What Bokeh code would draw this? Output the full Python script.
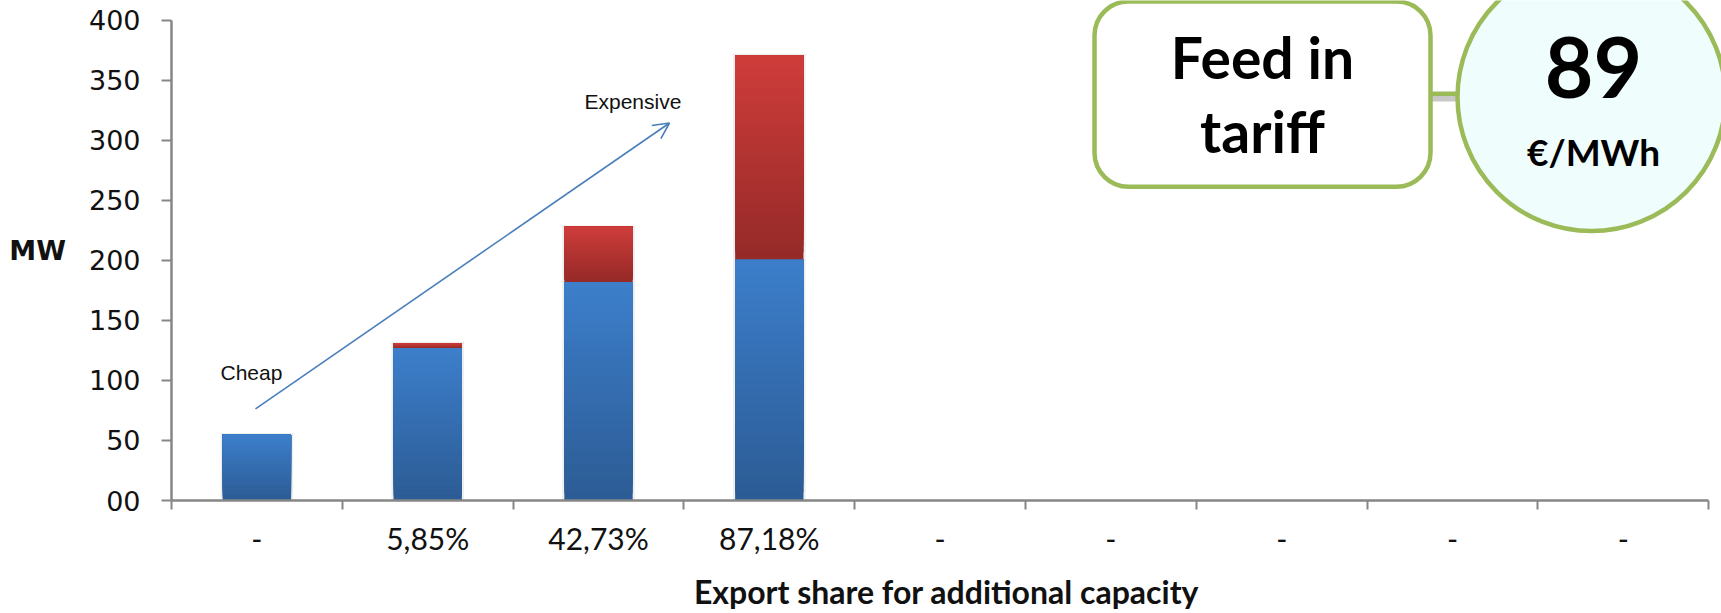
import numpy as np
from bokeh.plotting import figure
from bokeh.models import FixedTicker, Range1d, Arrow, OpenHead, ColumnDataSource
from bokeh.core.properties import value
from bokeh.embed import file_html
from bokeh.resources import INLINE

# ---- data ----
categories = ["-", "5,85%", "42,73%", "87,18%", "-", "-", "-", "-", "-"]
cheap_mw = [55, 127, 182, 201, 0, 0, 0, 0, 0]
expensive_mw = [0, 4, 46, 170, 0, 0, 0, 0, 0]
y_ticks = [0, 50, 100, 150, 200, 250, 300, 350, 400]
y_tick_labels = ["00", "50", "100", "150", "200", "250", "300", "350", "400"]
tariff_label = ["Feed in", "tariff"]
tariff_value = "89"
tariff_unit = "€/MWh"

# ---- geometry helpers (pixel -> data) ----
W, H = 1721, 613
LEFT, BOTTOM_BORDER = 171, 111
FRAME_H = H - BOTTOM_BORDER
CAT_PX = 170.8
PX_PER_MW = (FRAME_H - 20) / 400.0
x_end = (W - LEFT) / CAT_PX
y_end = FRAME_H / PX_PER_MW

def fx(px):
    return (px - LEFT) / CAT_PX

def fy(py):
    return (FRAME_H - py) / PX_PER_MW

p = figure(width=W, height=H, output_backend="svg", toolbar_location=None,
           x_range=Range1d(0, x_end), y_range=Range1d(0, y_end),
           min_border_left=LEFT, min_border_right=0, min_border_top=0,
           min_border_bottom=BOTTOM_BORDER)
p.outline_line_color = None
p.xgrid.visible = False
p.ygrid.visible = False
p.background_fill_color = "white"
p.border_fill_color = "white"

n = len(categories)
xc = [i + 0.5 for i in range(n)]

# ---- gradient bars (sliced) ----
def hex2rgb(h):
    h = h.lstrip("#")
    return np.array([int(h[i:i + 2], 16) for i in (0, 2, 4)], dtype=float)

def rgb2hex(c):
    return "#%02x%02x%02x" % tuple(int(round(v)) for v in c)

def gradient_source(bottoms, tops, top_col, bot_col, nslices=30):
    xs, bs, ts, cs = [], [], [], []
    c_top, c_bot = hex2rgb(top_col), hex2rgb(bot_col)
    for x, b, t in zip(xc, bottoms, tops):
        if t - b <= 0:
            continue
        for k in range(nslices):
            frac = k / nslices
            xs.append(x)
            bs.append(b + (t - b) * frac)
            ts.append(t)
            cs.append(rgb2hex(c_bot + (c_top - c_bot) * frac))
    return ColumnDataSource(dict(x=xs, bottom=bs, top=ts, color=cs))

totals = [a + b for a, b in zip(cheap_mw, expensive_mw)]
# soft shadow
p.vbar(x=[x for x, t in zip(xc, totals) if t > 0], width=0.425,
       top=[t + 1.2 for t in totals if t > 0], bottom=0,
       fill_color="#e2e2e2", fill_alpha=0.6, line_color=None)

blue_src = gradient_source([0] * n, cheap_mw, "#3d7fcc", "#2c5c95")
red_src = gradient_source(cheap_mw, totals, "#d03d3b", "#952a28")
p.vbar(x="x", width=0.4, bottom="bottom", top="top", source=blue_src,
       fill_color="color", line_color=None)
p.vbar(x="x", width=0.4, bottom="bottom", top="top", source=red_src,
       fill_color="color", line_color=None)

# ---- arrow and annotations ----
arrow = Arrow(end=OpenHead(size=16, line_color="#4a7ebb", line_width=1.6),
              x_start=fx(255), y_start=fy(410), x_end=fx(669), y_end=fy(123),
              line_color="#4a7ebb", line_width=1.6)
p.add_layout(arrow)

p.text(x=[fx(220)], y=[fy(373)], text=["Cheap"], text_font=value("Liberation Sans"),
       text_font_size="21px", text_baseline="middle", text_align="left", text_color="#111111")
p.text(x=[fx(584)], y=[fy(101)], text=["Expensive"], text_font=value("Liberation Sans"),
       text_font_size="21px", text_baseline="middle", text_align="left", text_color="#111111")

# ---- Feed-in tariff box and circle ----
GREEN = "#9bbb59"
p.segment(x0=[fx(1430)], y0=[fy(98.5)], x1=[fx(1470)], y1=[fy(98.5)],
          line_color="#9a9a9a", line_width=6, line_alpha=0.55)
p.segment(x0=[fx(1430)], y0=[fy(93.5)], x1=[fx(1470)], y1=[fy(93.5)],
          line_color=GREEN, line_width=4.5)
p.quad(left=[fx(1094)], right=[fx(1430)], bottom=[fy(187)], top=[fy(1)],
       fill_color="white", line_color=GREEN, line_width=4.5, border_radius=34)
p.circle(x=[fx(1591)], y=[fy(97)], radius=134, radius_units="screen",
         fill_color="#effdfd", line_color=GREEN, line_width=4.5)

p.text(x=[fx(1262), fx(1262)], y=[fy(57), fy(131)], text=tariff_label,
       text_font=value("Lato"), text_font_style="bold", text_font_size="57px",
       text_baseline="middle", text_align="center", text_color="black")
p.text(x=[fx(1593)], y=[fy(67)], text=[tariff_value],
       text_font=value("Lato"), text_font_style="bold", text_font_size="84px",
       text_baseline="middle", text_align="center", text_color="black")
p.text(x=[fx(1593)], y=[fy(152)], text=[tariff_unit],
       text_font=value("Lato"), text_font_style="bold", text_font_size="37px",
       text_baseline="middle", text_align="center", text_color="black")

# ---- axes ----
AX = "#868686"
xa = p.xaxis[0]
xa.ticker = FixedTicker(ticks=xc, minor_ticks=list(range(n + 1)))
xa.major_label_overrides = {x: c for x, c in zip(xc, categories)}
xa.bounds = (0, n)
xa.axis_line_color = AX
xa.axis_line_width = 2.5
xa.major_tick_out = 0
xa.major_tick_in = 0
xa.minor_tick_out = 9
xa.minor_tick_in = 0
xa.minor_tick_line_color = AX
xa.minor_tick_line_width = 2
xa.major_label_text_font = "Lato"
xa.major_label_text_font_size = "30px"
xa.major_label_text_color = "#111111"
xa.major_label_standoff = 10
xa.axis_label = "Export share for additional capacity"
xa.axis_label_text_font = "Lato"
xa.axis_label_text_font_style = "bold"
xa.axis_label_text_font_size = "32px"
xa.axis_label_text_color = "#111111"
xa.axis_label_standoff = 13

ya = p.yaxis[0]
ya.ticker = FixedTicker(ticks=y_ticks, minor_ticks=[])
ya.major_label_overrides = {t: l for t, l in zip(y_ticks, y_tick_labels)}
ya.bounds = (0, 400)
ya.axis_line_color = AX
ya.axis_line_width = 2.5
ya.major_tick_line_color = AX
ya.major_tick_line_width = 2
ya.major_tick_out = 10
ya.major_tick_in = 0
ya.major_label_text_font = "DejaVu Sans"
ya.major_label_text_font_size = "27px"
ya.major_label_text_color = "#111111"
ya.major_label_standoff = 21
ya.axis_label = "MW"
ya.axis_label_orientation = "horizontal"
ya.axis_label_text_font = "DejaVu Sans"
ya.axis_label_text_font_style = "bold"
ya.axis_label_text_font_size = "27px"
ya.axis_label_text_color = "#111111"
ya.axis_label_standoff = 20

open("out.html", "w").write(file_html(p, INLINE))
